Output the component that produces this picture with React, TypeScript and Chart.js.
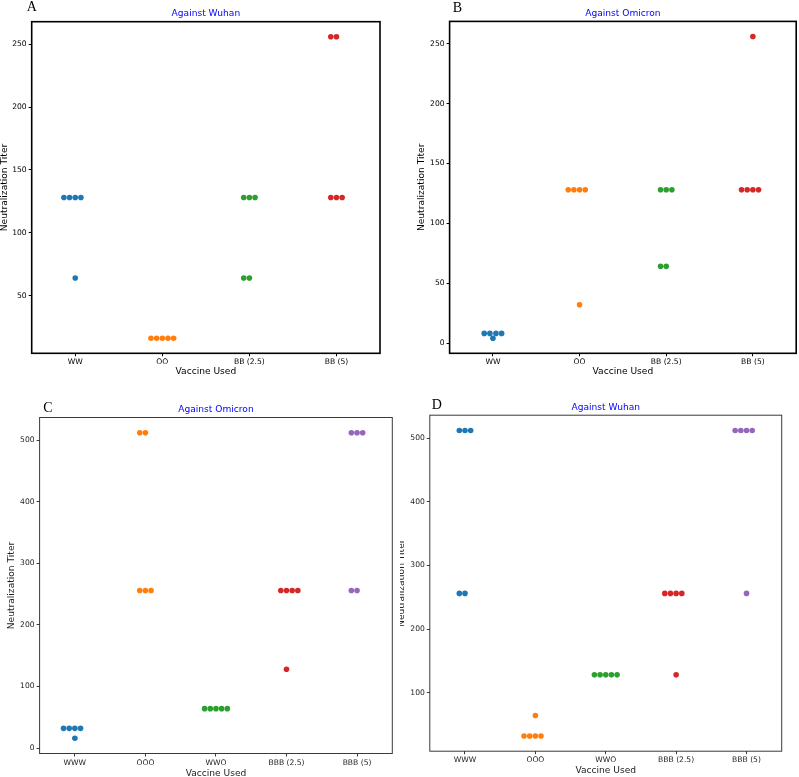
import React, { useEffect, useRef } from 'react';
import { Chart, registerables } from 'chart.js';

Chart.register(...registerables);

const FONT = '"DejaVu Sans", sans-serif';

// ---------- data ----------
const catsAB = ['WW', 'OO', 'BB (2.5)', 'BB (5)'];
const catsCD = ['WWW', 'OOO', 'WWO', 'BBB (2.5)', 'BBB (5)'];
const colors = ['#1f77b4', '#ff7f0e', '#2ca02c', '#d62728', '#9467bd'];

// Panel A: against Wuhan
const valuesA = [
  [128, 128, 128, 128, 64],
  [16, 16, 16, 16, 16],
  [128, 128, 128, 64, 64],
  [256, 256, 128, 128, 128],
];
// Panel B: against Omicron
const valuesB = [
  [8, 8, 8, 8, 4],
  [128, 128, 128, 128, 32],
  [128, 128, 128, 64, 64],
  [256, 128, 128, 128, 128],
];
// Panel C: against Omicron
const valuesC = [
  [32, 32, 32, 32, 16],
  [512, 512, 256, 256, 256],
  [64, 64, 64, 64, 64],
  [256, 256, 256, 256, 128],
  [512, 512, 512, 256, 256],
];
// Panel D: against Wuhan
const valuesD = [
  [512, 512, 512, 256, 256],
  [64, 32, 32, 32, 32],
  [128, 128, 128, 128, 128],
  [256, 256, 256, 256, 128],
  [512, 512, 512, 512, 256],
];

const ticksA = [50, 100, 150, 200, 250];
const ticksB = [0, 50, 100, 150, 200, 250];
const ticksC = [0, 100, 200, 300, 400, 500];
const ticksD = [100, 200, 300, 400, 500];

// ---------- layout ----------
type Rect = { x: number; y: number; w: number; h: number };
type Area = { l: number; t: number; r: number; b: number };
type PanelDef = {
  letter: string;
  title: string;
  cats: string[];
  values: number[][];
  ticks: number[];
  canvas: Rect;
  area: Area;
  yTitleX: number;
  xTitleY: number;
  letterX: number;
  letterY: number;
  frameColor: string;
  frameWidth: number;
  textColor: string;
  preferRight: number[];
};

const panels: PanelDef[] = [
  {
    letter: 'A', title: 'Against Wuhan', cats: catsAB, values: valuesA, ticks: ticksA,
    canvas: { x: 0, y: 0, w: 400, h: 380 },
    area: { l: 31.7, t: 21.7, r: 380, b: 353.3 },
    yTitleX: 4.5, xTitleY: 372, letterX: 26.7, letterY: 11,
    frameColor: '#000', frameWidth: 1.6, textColor: '#000', preferRight: [],
  },
  {
    letter: 'B', title: 'Against Omicron', cats: catsAB, values: valuesB, ticks: ticksB,
    canvas: { x: 400, y: 0, w: 399, h: 380 },
    area: { l: 449.6, t: 21.4, r: 796.4, b: 353.3 },
    yTitleX: 422, xTitleY: 372, letterX: 452.7, letterY: 11.5,
    frameColor: '#000', frameWidth: 1.6, textColor: '#000', preferRight: [],
  },
  {
    letter: 'C', title: 'Against Omicron', cats: catsCD, values: valuesC, ticks: ticksC,
    canvas: { x: 0, y: 380, w: 400, h: 397 },
    area: { l: 39.6, t: 417.5, r: 392.3, b: 753.5 },
    yTitleX: 11.7, xTitleY: 773.3, letterX: 43.3, letterY: 411.5,
    frameColor: '#3a3a3a', frameWidth: 1, textColor: '#222', preferRight: [3],
  },
  {
    letter: 'D', title: 'Against Wuhan', cats: catsCD, values: valuesD, ticks: ticksD,
    canvas: { x: 400, y: 380, w: 399, h: 397 },
    area: { l: 429.8, t: 415.2, r: 781.7, b: 751.2 },
    yTitleX: 401.5, xTitleY: 770.7, letterX: 431.7, letterY: 409,
    frameColor: '#3a3a3a', frameWidth: 1, textColor: '#222', preferRight: [],
  },
];

// beeswarm offsets (pixel space), seaborn-like placement
function swarm(ys: number[], d: number, preferRight: boolean): number[] {
  const idx = ys.map((_, i) => i).sort((a, b) => ys[b] - ys[a] || a - b);
  const placed: { x: number; y: number }[] = [];
  const out = new Array(ys.length).fill(0);
  for (const i of idx) {
    const y = ys[i];
    const nb = placed.filter((p) => Math.abs(p.y - y) < d);
    const lefts: number[] = [];
    const rights: number[] = [];
    for (const p of nb) {
      const dx = Math.sqrt(d * d - (p.y - y) * (p.y - y));
      lefts.push(p.x - dx);
      rights.push(p.x + dx);
    }
    const all = preferRight ? [0, ...rights, ...lefts] : [0, ...lefts, ...rights];
    const sorted = all
      .map((x, k) => ({ x, k }))
      .sort((a, b) => {
        const da = Math.abs(a.x), db = Math.abs(b.x);
        if (Math.abs(da - db) > 1e-6) return da - db;
        return a.k - b.k;
      });
    let chosen = 0;
    for (const c of sorted) {
      if (nb.every((p) => (p.x - c.x) ** 2 + (p.y - y) ** 2 >= d * d - 1e-6)) {
        chosen = c.x;
        break;
      }
    }
    out[i] = chosen;
    placed.push({ x: chosen, y });
  }
  return out;
}

function makeChart(canvas: HTMLCanvasElement, p: PanelDef) {
  const all = p.values.flat();
  const lo = Math.min(...all);
  const hi = Math.max(...all);
  const m = (hi - lo) * 0.05;
  const titleSize = 9.1;
  const lh = titleSize * 1.2;
  const tickFont = { family: FONT, size: 7.6 };
  const titleFont = { family: FONT, size: titleSize };
  const cv = p.canvas;
  const a = p.area;

  const datasets = p.values.map((vals, i) => ({
    label: p.cats[i],
    data: vals.map((v) => ({ x: i, y: v })),
    backgroundColor: colors[i],
    borderWidth: 0,
    pointRadius: 2.8,
    pointHoverRadius: 2.8,
  }));

  const plugin = {
    id: 'panel' + p.letter,
    afterDatasetsUpdate(chart: any) {
      const xs = chart.scales.x;
      chart.data.datasets.forEach((_: any, di: number) => {
        const els = chart.getDatasetMeta(di).data;
        const ys = els.map((e: any) => e.y);
        const offs = swarm(ys, 5.67, p.preferRight.includes(di));
        const cx = xs.getPixelForValue(di);
        els.forEach((e: any, k: number) => {
          e.x = cx + offs[k];
        });
      });
    },
    beforeDatasetsDraw(chart: any) {
      const { left, top, right, bottom } = chart.chartArea;
      const ctx = chart.ctx;
      ctx.save();
      ctx.strokeStyle = p.frameColor;
      ctx.lineWidth = p.frameWidth;
      ctx.strokeRect(left, top, right - left, bottom - top);
      ctx.restore();
    },
    afterDraw(chart: any) {
      const { left, top, right } = chart.chartArea;
      const ctx = chart.ctx;
      ctx.save();
      ctx.font = `${titleSize}px ${FONT}`;
      ctx.fillStyle = '#0000ff';
      ctx.textAlign = 'center';
      ctx.textBaseline = 'alphabetic';
      ctx.fillText(p.title, (left + right) / 2, top - 5.3);
      ctx.font = '14px "Liberation Serif", serif';
      ctx.fillStyle = '#000';
      ctx.textAlign = 'left';
      ctx.fillText(p.letter, p.letterX - cv.x, p.letterY - cv.y);
      ctx.restore();
    },
  };

  const gridOpts = {
    display: true,
    drawOnChartArea: false,
    drawTicks: true,
    tickLength: 3,
    color: p.frameColor,
    lineWidth: 1,
  };

  return new Chart(canvas, {
    type: 'scatter',
    data: { datasets },
    plugins: [plugin],
    options: {
      responsive: false,
      devicePixelRatio: 1,
      animation: false,
      events: [],
      layout: {
        padding: { left: 0, top: a.t - cv.y, right: cv.x + cv.w - a.r, bottom: 0 },
      },
      plugins: {
        legend: { display: false },
        title: { display: false },
        tooltip: { enabled: false },
      },
      scales: {
        x: {
          type: 'linear',
          min: -0.5,
          max: p.cats.length - 0.5,
          afterBuildTicks: (s: any) => {
            s.ticks = p.cats.map((_, i) => ({ value: i }));
          },
          afterFit: (s: any) => {
            s.height = cv.y + cv.h - a.b;
          },
          ticks: {
            font: tickFont,
            color: p.textColor,
            padding: 1.5,
            maxRotation: 0,
            autoSkip: false,
            callback: (_v: any, i: number) => p.cats[i],
          },
          grid: gridOpts,
          border: { display: false },
          title: {
            display: true,
            text: 'Vaccine Used',
            font: titleFont,
            color: p.textColor,
            padding: { top: 0, bottom: cv.y + cv.h - p.xTitleY - lh / 2 },
          },
        },
        y: {
          type: 'linear',
          min: lo - m,
          max: hi + m,
          afterBuildTicks: (s: any) => {
            s.ticks = p.ticks.map((v) => ({ value: v }));
          },
          afterFit: (s: any) => {
            s.width = a.l - cv.x;
          },
          ticks: {
            font: tickFont,
            color: p.textColor,
            padding: 2,
            callback: (v: any) => String(v),
          },
          grid: gridOpts,
          border: { display: false },
          title: {
            display: true,
            text: 'Neutralization Titer',
            font: titleFont,
            color: p.textColor,
            padding: { top: p.yTitleX - cv.x - lh / 2, bottom: 0 },
          },
        },
      },
    } as any,
  });
}

function Panel({ p }: { p: PanelDef }) {
  const ref = useRef<HTMLCanvasElement>(null);
  useEffect(() => {
    const c = makeChart(ref.current as HTMLCanvasElement, p);
    return () => c.destroy();
  }, []);
  return (
    <canvas
      ref={ref}
      width={p.canvas.w}
      height={p.canvas.h}
      style={{
        position: 'absolute',
        left: p.canvas.x,
        top: p.canvas.y,
        width: p.canvas.w,
        height: p.canvas.h,
      }}
    />
  );
}

export default function App() {
  return (
    <div
      style={{
        position: 'absolute',
        left: 0,
        top: 0,
        width: 799,
        height: 777,
        overflow: 'hidden',
        background: '#fff',
      }}
    >
      {panels.map((p) => (
        <Panel key={p.letter} p={p} />
      ))}
    </div>
  );
}
